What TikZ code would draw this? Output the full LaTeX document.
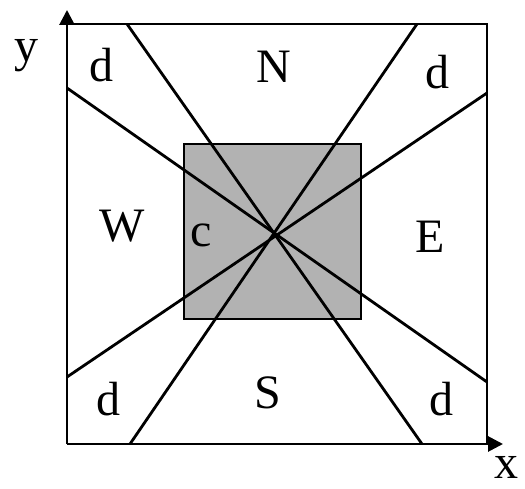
\documentclass[tikz,border=0pt]{standalone}
\usepackage{fontspec}
\setmainfont{Liberation Serif}
\usetikzlibrary{arrows.meta}

\begin{document}
\begin{tikzpicture}[
            x=1pt, y=-1pt,
            ln/.style={line width=2.8pt},
            ax/.style={line width=2.8pt, -{Triangle[length=15pt, width=15pt]}},
            lbl/.style={anchor=base, inner sep=0pt, font=\fontsize{48}{48}\selectfont},
        ]
        \useasboundingbox (0,0) rectangle (525,489);
        % frame corners and axis tips
        \coordinate (o)  at (67,444);
        \coordinate (tl) at (67,24);
        \coordinate (tr) at (487,24);
        \coordinate (br) at (487,444);
        \coordinate (ytip) at (67,10);
        \coordinate (xtip) at (503,444);
        % ends of the sector lines
        \coordinate (n1) at (127,24);
        \coordinate (n2) at (417,24);
        \coordinate (s1) at (130,444);
        \coordinate (s2) at (422,444);
        \coordinate (w1) at (67,88);
        \coordinate (w2) at (67,377);
        \coordinate (e1) at (487,93);
        \coordinate (e2) at (487,382);
        % core square
        \fill[black!30] (184,144) rectangle (361,319);
        \draw[ln] (184,144) rectangle (361,319);
        \draw[ln] (tl) -- (tr) -- (br);
        \draw[ax] (o) -- (ytip);
        \draw[ax] (o) -- (xtip);
        \draw[ln] (n1) -- (s2);
        \draw[ln] (n2) -- (s1);
        \draw[ln] (w1) -- (e2);
        \draw[ln] (e1) -- (w2);
        % labels
        \node[lbl] (ylbl) at (26,62)  {y};
        \node[lbl] (xlbl) at (506,478) {x};
        \node[lbl] (dnw) at (101,82)  {d};
        \node[lbl] (dne) at (437,89)  {d};
        \node[lbl] (dsw) at (108,415) {d};
        \node[lbl] (dse) at (441,415) {d};
        \node[lbl] (nn) at (274,83)  {N};
        \node[lbl] (ss) at (268,408) {S};
        \node[lbl] (ww) at (122,242) {W};
        \node[lbl] (ee) at (430,253) {E};
        \node[lbl] (cc) at (201,247) {c};
\end{tikzpicture}
\end{document}
